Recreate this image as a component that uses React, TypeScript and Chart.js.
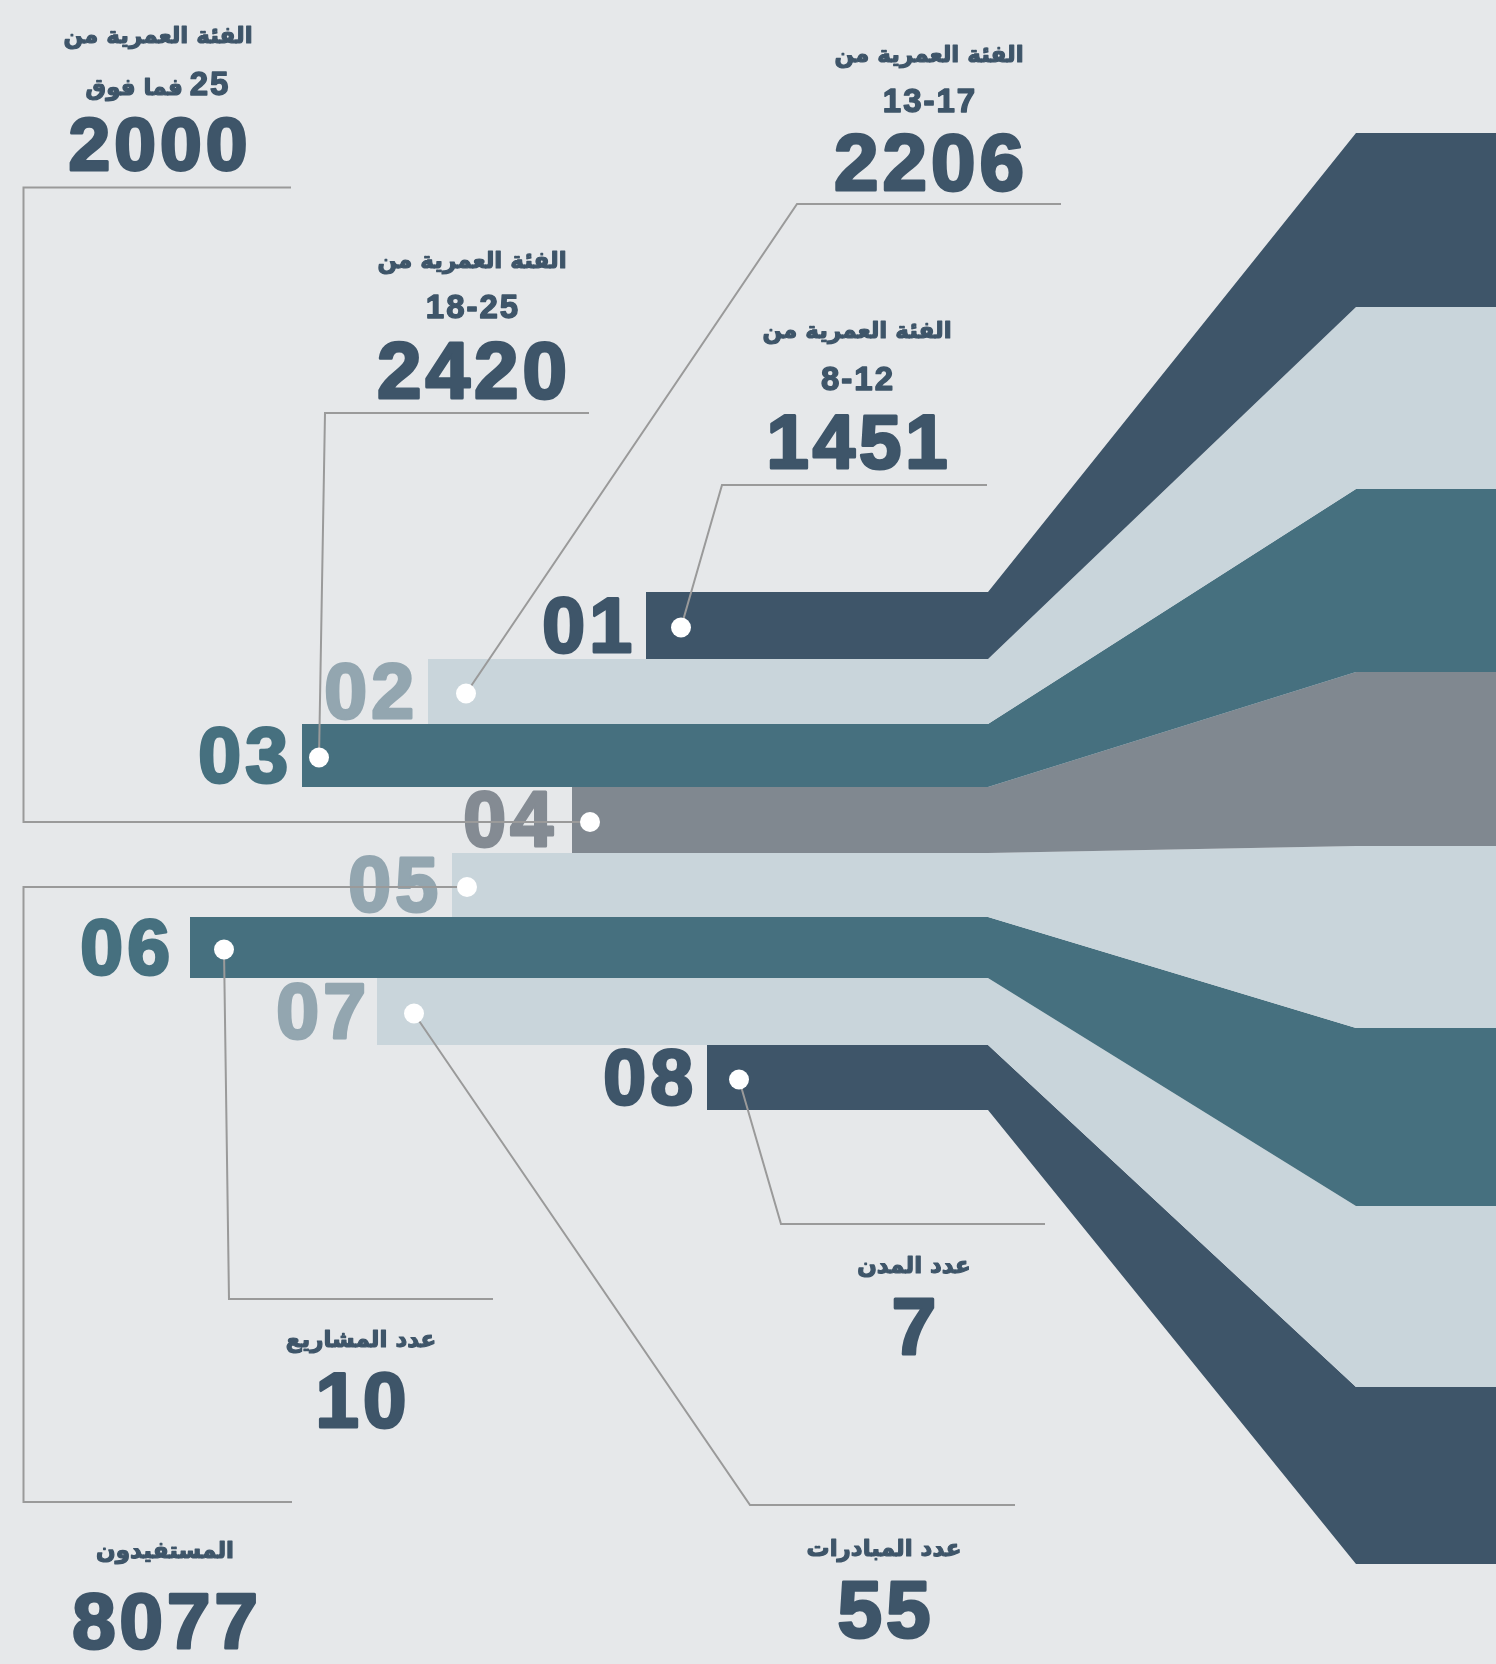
import { useEffect, useRef } from 'react';
import { Chart, registerables } from 'chart.js';

Chart.register(...registerables);

const W = 1496;
const H = 1664;

// ---- data ----
const rowNumbers = ['01', '02', '03', '04', '05', '06', '07', '08'];
// x where each horizontal bar begins (axis units)
const barStart = [646, 428, 302, 572, 452, 190, 377, 707];
// row boundaries on the narrow (left) side
const rowEdges = [592, 659, 724, 787, 853, 917, 978, 1045, 1110];
// band boundaries on the wide (right) side
const fanEdges = [133, 307, 489, 672, 846, 1028, 1206, 1387, 1564];
const neckX = 988;
const fanX = 1356;
const dotX = [681, 466, 319, 590, 467, 224, 414, 739];

const statValues = ['1451', '2206', '2420', '2000', '8077', '10', '55', '7'];
const statTitles = [
  'الفئة العمرية من',
  'الفئة العمرية من',
  'الفئة العمرية من',
  'الفئة العمرية من',
  'المستفيدون',
  'عدد المشاريع',
  'عدد المبادرات',
  'عدد المدن',
];
const statSubtitles = ['8-12', '13-17', '18-25', '25 فما فوق', '', '', '', ''];

// ---- styles / layout ----
const BG = '#e6e8ea';
const DARK = '#3e5569';
const LIGHT = '#c9d5db';
const TEAL = '#46707f';
const GRAY = '#808890';
const bandColors = [DARK, LIGHT, TEAL, GRAY, LIGHT, TEAL, LIGHT, DARK];
const numberColors = [DARK, '#93a6b0', TEAL, '#848b93', '#93a6b0', TEAL, '#93a6b0', DARK];
const numberOffset = [10, 10, 10, 15, 10, 16, 7, 10];
const LINE = '#9a9a9a';

// label anchors: centre x, title baseline, subtitle baseline, value baseline, value font size
const labelPos = [
  { cx: 857, t: 338, s: 390, v: 468, fs: 76 },
  { cx: 929, t: 62, s: 112, v: 190, fs: 80 },
  { cx: 472, t: 268, s: 318, v: 398, fs: 80 },
  { cx: 158, t: 43, s: 95, v: 170, fs: 75 },
  { cx: 165, t: 1558, s: 0, v: 1648, fs: 78 },
  { cx: 361, t: 1347, s: 0, v: 1427, fs: 78 },
  { cx: 884, t: 1556, s: 0, v: 1637, fs: 80 },
  { cx: 914, t: 1273, s: 0, v: 1354, fs: 80 },
];

const rowCenter = (i: number) => (rowEdges[i] + rowEdges[i + 1]) / 2;
const dotY = (i: number) => rowCenter(i) + 2;

// leader paths after the dot
const leaderPaths: number[][][] = [
  [[722, 485], [987, 485]],
  [[797, 204], [1061, 204]],
  [[325, 413], [589, 413]],
  [[23.5, dotY(3)], [23.5, 187.5], [291, 187.5]],
  [[23.5, dotY(4)], [23.5, 1502], [292, 1502]],
  [[229, 1299], [493, 1299]],
  [[750, 1505], [1015, 1505]],
  [[781, 1224], [1045, 1224]],
];

const AR_FONT = `bold 23px "DejaVu Sans", sans-serif`;
const SUB_FONT = `bold 33px "Liberation Sans", Arial, sans-serif`;

const bgPlugin = {
  id: 'bg',
  beforeDraw(chart: any) {
    const { ctx } = chart;
    ctx.save();
    ctx.fillStyle = BG;
    ctx.fillRect(0, 0, chart.width, chart.height);
    ctx.restore();
  },
};

function heavyText(ctx: CanvasRenderingContext2D, s: string, x: number, y: number, w: number) {
  ctx.lineJoin = 'round';
  ctx.lineWidth = w;
  ctx.strokeStyle = ctx.fillStyle as string;
  ctx.strokeText(s, x, y);
  ctx.fillText(s, x, y);
}

const textPlugin = {
  id: 'texts',
  beforeDatasetsDraw(chart: any) {
    const { ctx } = chart;
    const xs = chart.scales.x;
    const ys = chart.scales.y;
    ctx.save();
    // row numbers
    const nf = 77;
    ctx.font = `bold ${nf}px "Liberation Sans", Arial, sans-serif`;
    ctx.textAlign = 'right';
    ctx.textBaseline = 'alphabetic';
    (ctx as any).letterSpacing = '4px';
    for (let i = 0; i < rowNumbers.length; i++) {
      ctx.fillStyle = numberColors[i];
      const px = xs.getPixelForValue(barStart[i]) - numberOffset[i];
      const py = ys.getPixelForValue(rowCenter(i)) + nf * 0.344;
      heavyText(ctx, rowNumbers[i], px, py, 3);
    }
    // labels
    for (let i = 0; i < statValues.length; i++) {
      ctx.fillStyle = DARK;
      const p = labelPos[i];
      const cx = xs.getPixelForValue(p.cx);
      // title
      ctx.textAlign = 'center';
      ctx.direction = 'rtl';
      (ctx as any).letterSpacing = '0px';
      ctx.font = AR_FONT;
      heavyText(ctx, statTitles[i], cx, ys.getPixelForValue(p.t), 1.2);
      const sub = statSubtitles[i];
      if (sub) {
        const sy = ys.getPixelForValue(p.s);
        const m = sub.match(/^([\d\-]+)\s+(.+)$/);
        ctx.direction = 'ltr';
        if (m) {
          // digits (right) + Arabic words (left), read right-to-left
          (ctx as any).letterSpacing = '2px';
          ctx.font = SUB_FONT;
          const wd = ctx.measureText(m[1]).width;
          (ctx as any).letterSpacing = '0px';
          ctx.font = AR_FONT;
          const wa = ctx.measureText(m[2]).width;
          const gap = 7;
          const left = cx - (wd + gap + wa) / 2;
          ctx.direction = 'rtl';
          ctx.textAlign = 'right';
          heavyText(ctx, m[2], left + wa, sy, 1.2);
          ctx.direction = 'ltr';
          ctx.textAlign = 'left';
          (ctx as any).letterSpacing = '2px';
          ctx.font = SUB_FONT;
          heavyText(ctx, m[1], left + wa + gap, sy, 1.4);
        } else {
          ctx.textAlign = 'center';
          (ctx as any).letterSpacing = '2px';
          ctx.font = SUB_FONT;
          heavyText(ctx, sub, cx + 1, sy, 1.4);
        }
      }
      ctx.textAlign = 'center';
      ctx.direction = 'ltr';
      (ctx as any).letterSpacing = '4px';
      ctx.font = `bold ${p.fs}px "Liberation Sans", Arial, sans-serif`;
      heavyText(ctx, statValues[i], cx + 2, ys.getPixelForValue(p.v), 3);
    }
    ctx.restore();
  },
};

function buildDatasets() {
  const ds: any[] = [];
  // dots (drawn on top)
  ds.push({
    type: 'line',
    data: rowNumbers.map((_, i) => ({ x: dotX[i], y: dotY(i) })),
    showLine: false,
    pointRadius: 10,
    pointBackgroundColor: '#ffffff',
    pointBorderWidth: 0,
    pointHoverRadius: 10,
    clip: false,
  });
  // leader lines
  rowNumbers.forEach((_, i) => {
    const pts = [{ x: dotX[i], y: dotY(i) }, ...leaderPaths[i].map(([x, y]) => ({ x, y }))];
    ds.push({
      type: 'line',
      data: pts,
      borderColor: LINE,
      borderWidth: 2,
      pointRadius: 0,
      fill: false,
      tension: 0,
    });
  });
  // bands: a top edge + bottom edge filled to it
  rowNumbers.forEach((_, i) => {
    const edge = (k: number) => [
      { x: barStart[i], y: rowEdges[k] },
      { x: neckX, y: rowEdges[k] },
      { x: fanX, y: fanEdges[k] },
      { x: W, y: fanEdges[k] },
    ];
    ds.push({
      type: 'line',
      data: edge(i),
      borderWidth: 0,
      pointRadius: 0,
      fill: false,
      tension: 0,
    });
    ds.push({
      type: 'line',
      data: edge(i + 1),
      borderWidth: 0,
      pointRadius: 0,
      tension: 0,
      fill: '-1',
      backgroundColor: bandColors[i],
    });
  });
  return ds;
}

export default function App() {
  const ref = useRef<HTMLCanvasElement>(null);
  useEffect(() => {
    document.body.style.margin = '0';
    document.body.style.background = BG;
    const canvas = ref.current!;
    const chart = new Chart(canvas, {
      type: 'line',
      data: { datasets: buildDatasets() },
      options: {
        animation: false,
        responsive: false,
        maintainAspectRatio: false,
        events: [],
        layout: { padding: 0, autoPadding: false },
        scales: {
          x: { type: 'linear', min: 0, max: W, display: false },
          y: { type: 'linear', min: 0, max: H, reverse: true, display: false },
        },
        plugins: {
          legend: { display: false },
          tooltip: { enabled: false },
          filler: { propagate: false },
        },
      } as any,
      plugins: [bgPlugin, textPlugin],
    });
    return () => chart.destroy();
  }, []);
  return (
    <div style={{ width: W, height: H, background: BG }}>
      <canvas ref={ref} width={W} height={H} style={{ display: 'block', width: W, height: H }} />
    </div>
  );
}
